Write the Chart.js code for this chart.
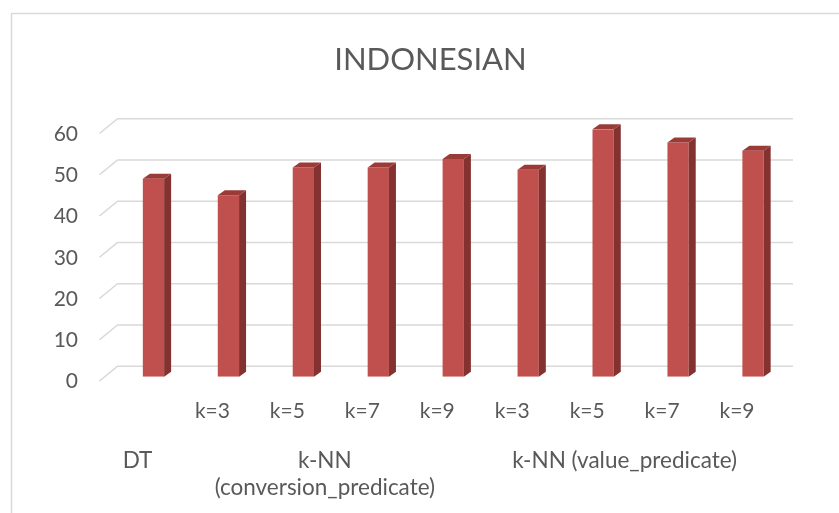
<!DOCTYPE html>
<html><head><meta charset="utf-8">
<script src="https://cdn.jsdelivr.net/npm/chart.js@4"></script>
<style>html,body{margin:0;padding:0;background:#fff;overflow:hidden}#wrap{width:839px;height:513px;position:relative}</style>
</head><body><div id="wrap"><canvas id="c" width="839" height="513"></canvas></div>
<script>
const chartTitle = 'INDONESIAN';
const tickLabels = ['', 'k=3', 'k=5', 'k=7', 'k=9', 'k=3', 'k=5', 'k=7', 'k=9'];
const groupLabels = ['DT', ['k-NN', '(conversion_predicate)'], 'k-NN (value_predicate)'];
const groupCenters = [0, 2.5, 6.5];
const accuracy = [48, 44, 50.7, 50.7, 52.8, 50.2, 60, 56.8, 54.8];
const yMin = 0, yMax = 60, yStep = 10;

const TXT = '#595959';
const FONT = 'Lato';
const FRONT = '#C0504D', SIDE = '#833230', TOP = '#9B3B38';
const DX = 7, DY = 5;

const frame = {
  id: 'frame',
  beforeDraw(chart) {
    const ctx = chart.ctx;
    ctx.save();
    ctx.fillStyle = '#fff';
    ctx.fillRect(0, 0, chart.width, chart.height);
    ctx.strokeStyle = '#d9d9d9';
    ctx.lineWidth = 1.5;
    ctx.beginPath();
    ctx.moveTo(11.5, chart.height);
    ctx.lineTo(11.5, 13.5);
    ctx.lineTo(chart.width, 13.5);
    ctx.stroke();
    ctx.restore();
  }
};

const grid3d = {
  id: 'grid3d',
  beforeDatasetsDraw(chart) {
    const ctx = chart.ctx, y = chart.scales.y;
    ctx.save();
    ctx.strokeStyle = '#d9d9d9';
    ctx.lineWidth = 1.6;
    y.ticks.forEach(t => {
      const p = y.getPixelForValue(t.value);
      const front = p + 4.3, back = p - 10.5;
      ctx.beginPath();
      ctx.moveTo(99.5, front);
      ctx.lineTo(117.5, back);
      ctx.lineTo(793, back);
      ctx.stroke();
    });
    ctx.restore();
  }
};

const bars3d = {
  id: 'bars3d',
  afterDatasetsDraw(chart) {
    const ctx = chart.ctx;
    const meta = chart.getDatasetMeta(0);
    ctx.save();
    meta.data.forEach(b => {
      const l = b.x - b.width / 2, r = b.x + b.width / 2, t = b.y, bs = b.base;
      ctx.fillStyle = SIDE;
      ctx.beginPath();
      ctx.moveTo(r, t); ctx.lineTo(r + DX, t - DY); ctx.lineTo(r + DX, bs - DY); ctx.lineTo(r, bs);
      ctx.closePath(); ctx.fill();
      ctx.fillStyle = TOP;
      ctx.beginPath();
      ctx.moveTo(l, t); ctx.lineTo(l + DX, t - DY); ctx.lineTo(r + DX, t - DY); ctx.lineTo(r, t);
      ctx.closePath(); ctx.fill();
    });
    ctx.restore();
  }
};

new Chart(document.getElementById('c'), {
  type: 'bar',
  data: {
    labels: tickLabels,
    datasets: [{
      data: accuracy,
      backgroundColor: FRONT,
      borderWidth: 0,
      categoryPercentage: 1,
      barPercentage: 0.284,
      xAxisID: 'x',
      yAxisID: 'y'
    }]
  },
  options: {
    responsive: false,
    animation: false,
    devicePixelRatio: 1,
    layout: { padding: { left: 22, right: 0, top: 0, bottom: 0 } },
    plugins: {
      legend: { display: false },
      tooltip: { enabled: false },
      title: {
        display: true,
        text: chartTitle,
        color: TXT,
        font: { family: FONT, size: 31, weight: 'normal', lineHeight: 1.2 },
        padding: { top: 41, bottom: 51 }
      }
    },
    scales: {
      x: {
        type: 'category',
        position: 'bottom',
        offset: true,
        grid: { display: false, drawTicks: false },
        border: { display: false },
        ticks: {
          color: TXT, font: { family: FONT, size: 21, lineHeight: 1.2 },
          padding: 22, labelOffset: -16, maxRotation: 0, autoSkip: false
        },
        afterFit(s) { s.height = 50; }
      },
      x2: {
        type: 'linear',
        position: 'bottom',
        min: -0.5, max: 8.5,
        offset: false,
        grid: { display: false, drawTicks: false },
        border: { display: false },
        afterBuildTicks(s) { s.ticks = groupCenters.map(v => ({ value: v })); },
        ticks: {
          color: TXT, font: { family: FONT, size: 22.5, lineHeight: 1.2 },
          padding: 21, labelOffset: -16, maxRotation: 0, autoSkip: false,
          callback(v) { const i = groupCenters.indexOf(v); return i >= 0 ? groupLabels[i] : ''; }
        },
        afterFit(s) { s.height = 86.3; }
      },
      y: {
        min: yMin, max: yMax,
        grid: { display: false, drawTicks: false },
        border: { display: false },
        ticks: {
          stepSize: yStep, color: TXT, font: { family: FONT, size: 21 },
          padding: 38, labelOffset: 5
        },
        afterFit(s) { s.width = 94; }
      },
      yRight: {
        type: 'linear',
        position: 'right',
        min: yMin, max: yMax,
        grid: { display: false, drawTicks: false },
        border: { display: false },
        ticks: { display: false },
        afterFit(s) { s.width = 48.5; }
      }
    }
  },
  plugins: [frame, grid3d, bars3d]
});
</script>
</body></html>
